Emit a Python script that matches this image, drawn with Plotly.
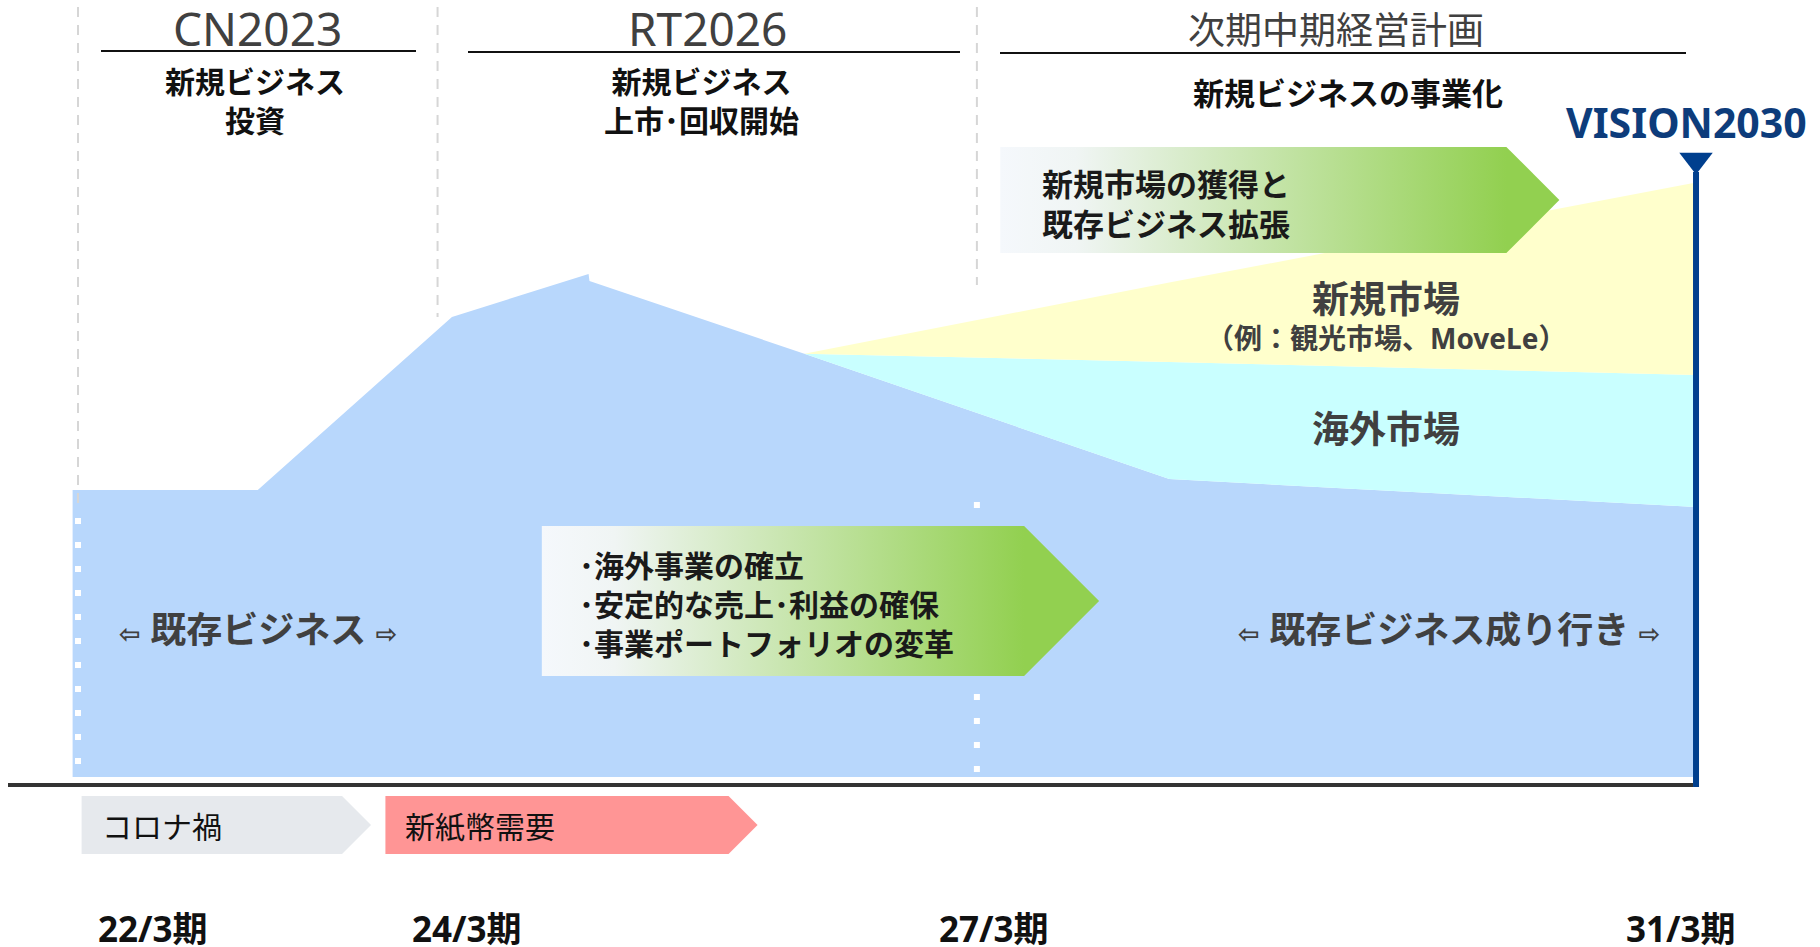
import plotly.graph_objects as go

# ---------------- data ----------------
period_labels = ["22/3期", "24/3期", "27/3期", "31/3期"]
period_years = [2022, 2024, 2027, 2031]

plan_names = ["CN2023", "RT2026", "次期中期経営計画"]
plan_themes = ["新規ビジネス<br>投資", "新規ビジネス<br>上市･回収開始", "新規ビジネスの事業化"]
plan_start = [2022, 2024, 2027]
plan_end = [2024, 2027, 2031]

trend_years = [2021.97, 2023.0, 2024.08, 2024.84, 2024.845, 2026.04, 2028.07, 2031.0]
existing_business = [100, 100, 160.3, 175.3, 172.8, 147.5, 103.8, 94.1]
overseas_market = [0, 0, 0, 0, 0, 0, 40.8, 46.0]
new_market = [0, 0, 0, 0, 0, 0, 27.7, 67.0]

event_labels = ["コロナ禍", "新紙幣需要"]
event_start = [2022.02, 2023.71]
event_end = [2023.63, 2025.78]
event_colors = ["#E6E9ED", "#FF9595"]

strategy_labels = ["･海外事業の確立<br>･安定的な売上･利益の確保<br>･事業ポートフォリオの変革",
                   "新規市場の獲得と<br>既存ビジネス拡張"]
strategy_start = [2024.58, 2027.13]
strategy_end = [2027.68, 2030.24]

vision_label = "VISION2030"
vision_year = 2031

# ---------------- layout helpers ----------------
W, H = 1820, 947
PX_PER_YEAR = 179.78
X_AT_0 = 2022 - 78 / PX_PER_YEAR
BASE_PX = 777
PX_PER_UNIT = 2.87


def px2x(px):
    return X_AT_0 + px / PX_PER_YEAR


def px2y(py):
    return (BASE_PX - py) / PX_PER_UNIT


JP = "Noto Sans CJK JP"
LAT = "Noto Sans, Noto Sans CJK JP"
BLUE = "#B8D7FC"
CYAN = "#C9FFFF"
YELLOW = "#FFFFCC"
NAVY = "#003F8E"
GRAY_TXT = "#404040"

fig = go.Figure()

# stacked areas
for name, vals, col in [("既存ビジネス", existing_business, BLUE),
                        ("海外市場", overseas_market, CYAN),
                        ("新規市場", new_market, YELLOW)]:
    fig.add_trace(go.Scatter(x=trend_years, y=vals, stackgroup="one", mode="lines",
                             line=dict(width=0, color=col), fillcolor=col,
                             name=name, hoverinfo="skip", showlegend=False))

# divider lines (gray dashed above, white dotted inside the area)
gray_end_px = [505, 317, 285]
for yr, endpx in zip(plan_start, gray_end_px):
    fig.add_trace(go.Scatter(x=[yr, yr], y=[px2y(7), px2y(endpx)], mode="lines",
                             line=dict(color="#D6D6D6", width=2, dash="10px,8px"),
                             hoverinfo="skip", showlegend=False))
white_dot_start_px = {2022: 518, 2027: 502}
for yr, st in white_dot_start_px.items():
    fig.add_trace(go.Scatter(x=[yr, yr], y=[px2y(st), px2y(777)], mode="lines",
                             line=dict(color="white", width=6, dash="6px,18px"),
                             hoverinfo="skip", showlegend=False))


def chevron(x0, x1, top_px, bot_px):
    yt, yb = px2y(top_px), px2y(bot_px)
    ym = (yt + yb) / 2
    d = (bot_px - top_px) / 2 / PX_PER_YEAR
    return [x0, x1 - d, x1, x1 - d, x0, x0], [yt, yt, ym, yb, yb, yt], d


# event chevrons (bottom row)
EV_TOP, EV_BOT = 796, 854
for lab, s, e, col in zip(event_labels, event_start, event_end, event_colors):
    xs, ys, d = chevron(s, e, EV_TOP, EV_BOT)
    fig.add_trace(go.Scatter(x=xs, y=ys, fill="toself", fillcolor=col, mode="lines",
                             line=dict(width=0), hoverinfo="skip", showlegend=False))

# strategy chevrons (green gradient)
strategy_rows = [(526, 676), (147, 253)]
for lab, s, e, (tp, bp) in zip(strategy_labels, strategy_start, strategy_end, strategy_rows):
    xs, ys, d = chevron(s, e, tp, bp)
    fig.add_trace(go.Scatter(x=xs, y=ys, fill="toself", mode="lines",
                             line=dict(width=0),
                             fillgradient=dict(type="horizontal",
                                               colorscale=[[0, "#F5F8FC"], [0.15, "#F0F5F4"],
                                                           [1, "#92D050"]],
                                               start=s, stop=e - d),
                             hoverinfo="skip", showlegend=False))

# VISION2030 marker line
fig.add_trace(go.Scatter(x=[vision_year, vision_year], y=[px2y(787), px2y(172)], mode="lines",
                         line=dict(color=NAVY, width=6), hoverinfo="skip", showlegend=False))
fig.add_trace(go.Scatter(x=[vision_year], y=[px2y(160)], mode="markers",
                         marker=dict(symbol="triangle-down", size=29, color=NAVY, line=dict(width=0)),
                         hoverinfo="skip", showlegend=False))

shapes = []
# baseline axis line
shapes.append(dict(type="line", xref="x", yref="y", x0=px2x(8), x1=px2x(1693),
                   y0=px2y(785), y1=px2y(785), line=dict(color="#333333", width=4), layer="above"))
# plan underlines
underline_px = [(101, 416, 51), (468, 960, 52), (1000, 1686, 53)]
for a, b, yy in underline_px:
    shapes.append(dict(type="line", xref="x", yref="y", x0=px2x(a), x1=px2x(b),
                       y0=px2y(yy), y1=px2y(yy), line=dict(color="#111111", width=2)))

ann = []
# plan headers & themes
header_sizes = [46, 46, 37]
header_fonts = ["Noto Sans", "Noto Sans", JP]
theme_shift = [-3, -6, 12]
theme_y_px = [99, 99, 91]
theme_sizes = [30, 30, 31]
for i, name in enumerate(plan_names):
    mid = (plan_start[i] + plan_end[i]) / 2
    ann.append(dict(x=mid, y=px2y(28), text=name, showarrow=False, xanchor="center", yanchor="middle",
                    borderpad=0, height=44,
                    font=dict(family=header_fonts[i], size=header_sizes[i], color=GRAY_TXT)))
    ann.append(dict(x=mid, y=px2y(theme_y_px[i]), xshift=theme_shift[i], text=plan_themes[i],
                    showarrow=False, xanchor="center", yanchor="middle", align="center", borderpad=0,
                    font=dict(family=JP, size=theme_sizes[i], color="#111111", weight="bold")))

# period tick labels
tick_shift = [75, 29, 17, -15]
for lab, yr, sh in zip(period_labels, period_years, tick_shift):
    ann.append(dict(x=yr, y=px2y(928), xshift=sh, text=lab, showarrow=False,
                    xanchor="center", yanchor="middle", borderpad=0, height=36,
                    font=dict(family=LAT, size=35, color="#111111", weight="bold")))

# event labels
for lab, s in zip(event_labels, event_start):
    ann.append(dict(x=s, y=px2y(825), xshift=19, text=lab, showarrow=False,
                    xanchor="left", yanchor="middle", borderpad=0,
                    font=dict(family=JP, size=30, color="#111111")))

# strategy labels
strat_text_shift = [36, 41]
strat_sizes = [30, 31]
for lab, s, (tp, bp), sh, sz in zip(strategy_labels, strategy_start, strategy_rows,
                                    strat_text_shift, strat_sizes):
    ann.append(dict(x=s, y=px2y((tp + bp) / 2 + 2), xshift=sh, text=lab, showarrow=False,
                    xanchor="left", yanchor="middle", align="left", borderpad=0,
                    font=dict(family=JP, size=sz, color="#1A1A1A", weight="bold")))

# area labels
arr_l = "<span style='font-family:DejaVu Sans;font-size:26px'>⇦</span> "
arr_r = " <span style='font-family:DejaVu Sans;font-size:26px'>⇨</span>"
area_labels = [(arr_l + "既存ビジネス" + arr_r, 258, 629, 36),
               (arr_l + "既存ビジネス成り行き" + arr_r, 1449, 629, 36),
               ("新規市場", 1386, 298, 37),
               ("（例：観光市場、MoveLe）", 1386, 338, 28),
               ("海外市場", 1386, 428, 37)]
for txt, xp, yp, sz in area_labels:
    ann.append(dict(x=px2x(xp), y=px2y(yp), text=txt, showarrow=False,
                    xanchor="center", yanchor="middle", borderpad=0,
                    font=dict(family=LAT, size=sz, color=GRAY_TXT, weight="bold")))

# VISION2030
ann.append(dict(x=vision_year, y=px2y(122), xshift=-10, text=vision_label, showarrow=False,
                xanchor="center", yanchor="middle", borderpad=0,
                font=dict(family="Noto Sans", size=41, color="#0D3C7B", weight="bold")))

fig.update_layout(
    width=W, height=H, autosize=False,
    margin=dict(l=0, r=0, t=0, b=0, pad=0),
    paper_bgcolor="white", plot_bgcolor="white",
    xaxis=dict(range=[X_AT_0, X_AT_0 + W / PX_PER_YEAR], visible=False, fixedrange=True),
    yaxis=dict(range=[px2y(H), px2y(0)], visible=False, fixedrange=True),
    shapes=shapes, annotations=ann, showlegend=False, hovermode=False,
)

fig.write_html("out.html", config={"displayModeBar": False})
